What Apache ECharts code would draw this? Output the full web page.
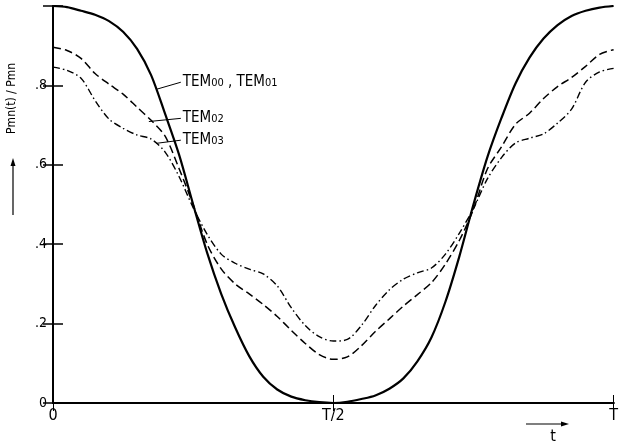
<!DOCTYPE html>
<html>
<head>
<meta charset="utf-8">
<script src="https://cdn.jsdelivr.net/npm/echarts@6/dist/echarts.min.js"></script>
<style>
  html, body { margin: 0; padding: 0; background: #fff; }
  #main { width: 621px; height: 444px; }
</style>
</head>
<body>
<div id="main"></div>
<script>
// t / T sample points
var tValues = [0, 0.025, 0.05, 0.075, 0.1, 0.125, 0.15, 0.175, 0.2, 0.225, 0.25,
  0.275, 0.3, 0.325, 0.35, 0.375, 0.4, 0.425, 0.45, 0.475, 0.5,
  0.525, 0.55, 0.575, 0.6, 0.625, 0.65, 0.675, 0.7, 0.725, 0.75,
  0.775, 0.8, 0.825, 0.85, 0.875, 0.9, 0.925, 0.95, 0.975, 1];

// TEM00 , TEM01 (solid)
var tem00 = [1.000, 0.997, 0.988, 0.978, 0.962, 0.935, 0.892, 0.826, 0.728, 0.625, 0.500,
  0.378, 0.275, 0.190, 0.118, 0.066, 0.034, 0.016, 0.007, 0.002, 0.000,
  0.003, 0.010, 0.019, 0.036, 0.062, 0.105, 0.165, 0.255, 0.370, 0.500,
  0.620, 0.718, 0.805, 0.870, 0.918, 0.952, 0.975, 0.988, 0.996, 1.000];

// TEM02 (dashed)
var tem02 = [0.896, 0.888, 0.868, 0.830, 0.803, 0.778, 0.745, 0.712, 0.672, 0.590, 0.500,
  0.400, 0.338, 0.300, 0.275, 0.248, 0.218, 0.183, 0.150, 0.122, 0.110,
  0.116, 0.144, 0.180, 0.212, 0.244, 0.273, 0.303, 0.350, 0.410, 0.488,
  0.590, 0.645, 0.702, 0.730, 0.767, 0.797, 0.820, 0.848, 0.878, 0.890];

// TEM03 (dash-dot)
var tem03 = [0.846, 0.838, 0.818, 0.762, 0.715, 0.692, 0.675, 0.665, 0.632, 0.570, 0.492,
  0.425, 0.375, 0.352, 0.337, 0.325, 0.295, 0.240, 0.195, 0.167, 0.156,
  0.160, 0.195, 0.245, 0.285, 0.312, 0.328, 0.340, 0.375, 0.428, 0.490,
  0.565, 0.618, 0.655, 0.667, 0.678, 0.705, 0.740, 0.808, 0.834, 0.843];

var yTicks = { 0: '0', 0.2: '.2', 0.4: '.4', 0.6: '.6', 0.8: '.8' };
var xTicks = { 0: '0', 0.5: 'T/2', 1: 'T' };

function pairs(vals) {
  return tValues.map(function (t, i) { return [t, vals[i]]; });
}

var font = "'Liberation Sans Narrow', 'DejaVu Sans Condensed', 'Liberation Sans', sans-serif";
var rich = {
  m: { fontFamily: font, fontSize: 15, color: '#000' },
  s: { fontFamily: font, fontSize: 11, color: '#000', verticalAlign: 'bottom', padding: [0, 0, 1, 0] }
};

function leader(from, to, text) {
  return {
    silent: true,
    symbol: 'none',
    animation: false,
    lineStyle: { color: '#000', width: 1, type: 'solid' },
    label: { show: true, position: 'end', distance: 2, formatter: text, rich: rich },
    data: [[{ coord: from }, { coord: to }]]
  };
}

var axisLine = { show: true, lineStyle: { color: '#000', width: 2 } };

var chart = echarts.init(document.getElementById('main'));
chart.setOption({
  animation: false,
  backgroundColor: '#fff',
  grid: { left: 53, right: 1, top: 6, bottom: 41 },
  xAxis: [{
    type: 'value', min: 0, max: 1, interval: 0.5, position: 'bottom',
    axisLine: axisLine,
    axisTick: { show: true, inside: true, length: 8, lineStyle: { color: '#000', width: 1 } },
    axisLabel: {
      margin: 5, color: '#000', fontFamily: font, fontSize: 16,
      formatter: function (v) { return xTicks[v] || ''; }
    },
    splitLine: { show: false }
  }, {
    type: 'value', min: 0, max: 1, interval: 0.5, position: 'top',
    axisLine: axisLine,
    axisTick: { show: true, inside: true, length: 8, lineStyle: { color: '#000', width: 1 } },
    axisLabel: { show: false },
    splitLine: { show: false }
  }],
  yAxis: [{
    type: 'value', min: 0, max: 1, interval: 0.2, position: 'left',
    axisLine: axisLine,
    axisTick: { show: true, inside: true, length: 10, lineStyle: { color: '#000', width: 1.5 } },
    axisLabel: {
      margin: 6, color: '#000', fontFamily: font, fontSize: 14,
      formatter: function (v) { return yTicks[Math.round(v * 10) / 10] || ''; }
    },
    splitLine: { show: false }
  }, {
    type: 'value', min: 0, max: 1, interval: 0.2, position: 'right',
    axisLine: axisLine,
    axisTick: { show: true, inside: true, length: 10, lineStyle: { color: '#000', width: 1.5 } },
    axisLabel: { show: false },
    splitLine: { show: false }
  }],
  series: [{
    name: 'TEM00', type: 'line', data: pairs(tem00), smooth: 0.3,
    showSymbol: false, lineStyle: { color: '#000', width: 2.2 },
    markLine: leader([0.184, 0.79], [0.228, 0.808], '{m|TEM}{s|00}{m| , TEM}{s|01}')
  }, {
    name: 'TEM02', type: 'line', data: pairs(tem02), smooth: 0.3,
    showSymbol: false, lineStyle: { color: '#000', width: 1.5, type: [8, 4] },
    markLine: leader([0.171, 0.709], [0.228, 0.717], '{m|TEM}{s|02}')
  }, {
    name: 'TEM03', type: 'line', data: pairs(tem03), smooth: 0.3,
    showSymbol: false, lineStyle: { color: '#000', width: 1.4, type: [7, 3, 1.5, 3] },
    markLine: leader([0.184, 0.654], [0.228, 0.662], '{m|TEM}{s|03}')
  }],
  graphic: [{
    type: 'text', left: 6, top: 63, rotation: Math.PI / 2,
    style: { text: 'Pmn(t) / Pmn', font: '12px ' + font, fill: '#000' },
    originX: 0, originY: 0
  }, {
    type: 'line', shape: { x1: 13, y1: 215, x2: 13, y2: 164 },
    style: { stroke: '#000', lineWidth: 1.2 }
  }, {
    type: 'polygon', shape: { points: [[13, 158], [10.5, 166], [15.5, 166]] },
    style: { fill: '#000' }
  }, {
    type: 'line', shape: { x1: 526, y1: 424, x2: 562, y2: 424 },
    style: { stroke: '#000', lineWidth: 1.2 }
  }, {
    type: 'polygon', shape: { points: [[569, 424], [561, 421.5], [561, 426.5]] },
    style: { fill: '#000' }
  }, {
    type: 'text', x: 553, y: 437,
    style: { text: 't', font: '16px ' + font, fill: '#000', align: 'center', verticalAlign: 'middle' }
  }]
});
</script>
</body>
</html>
